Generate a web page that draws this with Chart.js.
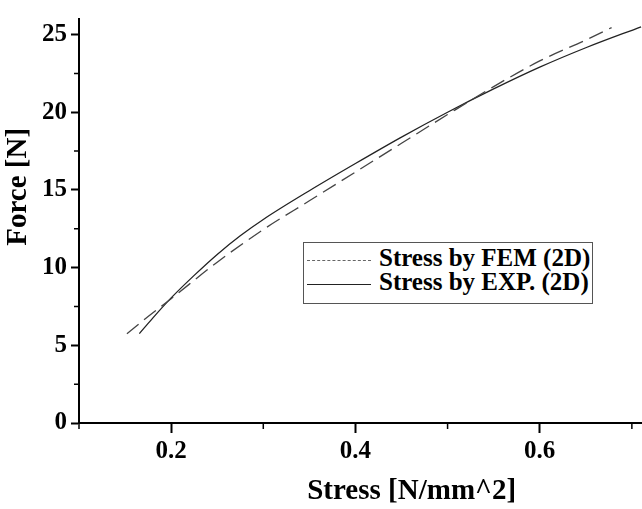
<!DOCTYPE html>
<html>
<head>
<meta charset="utf-8">
<script src="https://cdn.jsdelivr.net/npm/chart.js@4/dist/chart.umd.min.js"></script>
<style>
  html, body { margin: 0; padding: 0; background: #fff; }
  #wrap { position: relative; width: 642px; height: 509px; }
  #legend {
    position: absolute; left: 303px; top: 242px; width: 290px; height: 62px;
    border: 1px solid #555; box-sizing: border-box; background: #fff;
    font-family: "Liberation Serif", "DejaVu Serif", serif; font-weight: bold; font-size: 25px;
  }
  .row { position: absolute; left: 0; height: 24px; line-height: 24px; white-space: nowrap; }
  .row span.swatch { display: inline-block; width: 64px; margin-left: 3px; margin-right: 8px; vertical-align: middle; }
  .dash { border-top: 1.5px dashed #666; }
  .solid { border-top: 1.5px solid #222; }
</style>
</head>
<body>
<div id="wrap">
  <canvas id="chart" width="642" height="509"></canvas>
  <div id="legend">
    <div class="row" style="top:3px"><span class="swatch dash"></span>Stress by FEM (2D)</div>
    <div class="row" style="top:27px"><span class="swatch solid"></span>Stress by EXP. (2D)</div>
  </div>
</div>
<script>
(function () {
  "use strict";

  // Stress by FEM (2D) - dashed
  const femStress = [0.152, 0.175, 0.2, 0.25, 0.3, 0.35, 0.4, 0.45, 0.5, 0.55, 0.6, 0.65, 0.678];
  const femForce = [5.75, 6.85, 8.0, 10.35, 12.45, 14.3, 16.15, 18.0, 19.85, 21.65, 23.3, 24.65, 25.45];

  // Stress by EXP. (2D) - solid
  const expStress = [0.1655, 0.18, 0.2, 0.225, 0.25, 0.275, 0.3, 0.35, 0.4, 0.45, 0.5, 0.55, 0.6, 0.65, 0.71];
  const expForce = [5.75, 6.75, 8.05, 9.5, 10.85, 12.05, 13.1, 14.95, 16.7, 18.4, 20.0, 21.5, 22.9, 24.15, 25.5];

  const xMajor = [0.2, 0.4, 0.6];
  const xMinor = [0.1, 0.3, 0.5, 0.7];
  const yMajor = [0, 5, 10, 15, 20, 25];
  const yMinor = [2.5, 7.5, 12.5, 17.5, 22.5];
  const xTitle = "Stress [N/mm^2]";
  const yTitle = "Force [N]";

  const serif = "'Liberation Serif', 'DejaVu Serif', serif";

  function points(xs, ys) {
    return xs.map((x, i) => ({ x, y: ys[i] }));
  }

  // minor ticks and the two axis titles
  const extras = {
    id: "extras",
    afterDraw(chart) {
      const ctx = chart.ctx;
      const xs = chart.scales.x;
      const ys = chart.scales.y;
      ctx.save();
      ctx.strokeStyle = "#000";
      ctx.lineWidth = 1.5;
      ctx.beginPath();
      xMinor.forEach((v) => {
        const px = xs.getPixelForValue(v);
        ctx.moveTo(px, xs.top);
        ctx.lineTo(px, xs.top + 6);
      });
      yMinor.forEach((v) => {
        const py = ys.getPixelForValue(v);
        ctx.moveTo(ys.right, py);
        ctx.lineTo(ys.right - 5, py);
      });
      ctx.stroke();

      ctx.fillStyle = "#000";
      ctx.font = "bold 29px " + serif;
      ctx.textAlign = "center";
      ctx.textBaseline = "middle";
      ctx.fillText(xTitle, xs.getPixelForValue(0.461), 492);

      ctx.translate(19, ys.getPixelForValue(15.2));
      ctx.rotate(-Math.PI / 2);
      ctx.fillText(yTitle, 0, 0);
      ctx.restore();
    }
  };

  new Chart(document.getElementById("chart"), {
    type: "line",
    data: {
      datasets: [
        {
          label: "Stress by FEM (2D)",
          data: points(femStress, femForce),
          borderColor: "#444",
          borderWidth: 1.3,
          borderDash: [15, 7],
          pointRadius: 0,
          cubicInterpolationMode: "monotone",
          fill: false
        },
        {
          label: "Stress by EXP. (2D)",
          data: points(expStress, expForce),
          borderColor: "#222",
          borderWidth: 1.3,
          pointRadius: 0,
          cubicInterpolationMode: "monotone",
          fill: false
        }
      ]
    },
    options: {
      responsive: false,
      animation: false,
      layout: { padding: { top: 7, right: 0, left: 0, bottom: 0 } },
      plugins: { legend: { display: false }, tooltip: { enabled: false } },
      scales: {
        x: {
          type: "linear",
          min: 0.1,
          max: 0.711,
          afterBuildTicks: (scale) => { scale.ticks = xMajor.map((v) => ({ value: v })); },
          afterFit: (scale) => { scale.height = 86; },
          grid: { drawOnChartArea: false, drawTicks: true, tickLength: 10, tickWidth: 2, tickColor: "#000" },
          border: { display: true, color: "#000", width: 2 },
          ticks: {
            color: "#000",
            padding: 4,
            maxRotation: 0,
            font: { family: serif, weight: "bold", size: 25 },
            callback: (v) => v.toFixed(1)
          }
        },
        y: {
          min: 0,
          max: 26,
          afterBuildTicks: (scale) => { scale.ticks = yMajor.map((v) => ({ value: v })); },
          afterFit: (scale) => { scale.width = 79; },
          grid: { drawOnChartArea: false, drawTicks: true, tickLength: 8, tickWidth: 2, tickColor: "#000" },
          border: { display: true, color: "#000", width: 2 },
          ticks: {
            color: "#000",
            padding: 4,
            font: { family: serif, weight: "bold", size: 25 }
          }
        }
      }
    },
    plugins: [extras]
  });
})();
</script>
</body>
</html>
